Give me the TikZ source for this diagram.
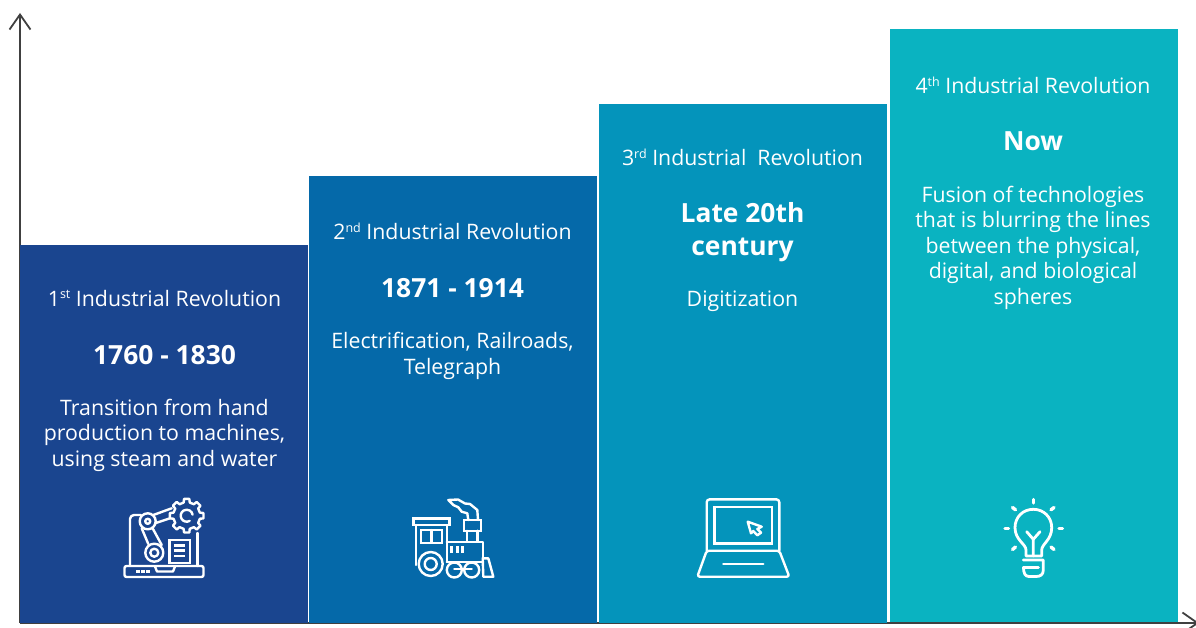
\documentclass[tikz,border=0pt]{standalone}
\usepackage{fontspec}
\setmainfont{Open Sans}
\usetikzlibrary{arrows.meta}
\definecolor{colA}{HTML}{1A458F}
\definecolor{colB}{HTML}{0569A9}
\definecolor{colC}{HTML}{0494BB}
\definecolor{colD}{HTML}{0AB3C1}
\definecolor{axisc}{HTML}{404040}
\newcommand{\sups}[1]{\raisebox{7.5pt}{\fontsize{12.5}{13}\selectfont #1}}
\tikzset{
  x=1pt,y=-1pt,
  axisline/.style={draw=axisc,line width=2pt,-{Straight Barb[length=15pt,width=21pt,line width=1.8pt]}},
  headtext/.style={white,font=\fontsize{21.3}{25.5}\selectfont,anchor=base,inner sep=0pt},
  datetext/.style={white,font=\fontsize{26.4}{32}\selectfont\bfseries,anchor=base,align=center,inner sep=0pt},
  bodytext/.style={white,font=\fontsize{21.3}{25.5}\selectfont,anchor=base,align=center,inner sep=0pt},
  icon/.style={draw=white,line width=2.4pt,line join=round,line cap=round},
  iconbar/.style={draw=white,line width=2.6pt,line cap=butt},
  ray/.style={draw=white,line width=3.4pt,line cap=round}
}
\begin{document}
\begin{tikzpicture}
\clip (0,0) rectangle (1196,628);
\fill[white] (0,0) rectangle (1196,628);
% axes
\coordinate (origin) at (20,623);
\coordinate (ytip) at (20,13);
\coordinate (xtip) at (1199,623);
\draw[axisline] (origin) -- (ytip);
\draw[axisline] (origin) -- (xtip);
% columns
\fill[colA] (20,245) rectangle (308,623);
\fill[colB] (309,176) rectangle (597,623);
\fill[colC] (599,104) rectangle (887,623);
\fill[colD] (890,29) rectangle (1178,622);
% column 1 text
\node[headtext] (h1) at (164.5,306) {1\sups{st} Industrial Revolution};
\node[datetext] (d1) at (164.5,364.5) {1760 - 1830};
\node[bodytext] (b1a) at (164.5,415) {Transition from hand};
\node[bodytext] (b1b) at (164.5,440.5) {production to machines,};
\node[bodytext] (b1c) at (164.5,466) {using steam and water};
% column 2 text
\node[headtext] (h2) at (452.5,240) {2\sups{nd} Industrial Revolution};
\node[datetext] (d2) at (452.5,297.5) {1871 - 1914};
\node[bodytext] (b2a) at (452.5,348) {Electrification, Railroads,};
\node[bodytext] (b2b) at (452.5,374) {Telegraph};
% column 3 text
\node[headtext] (h3) at (742.5,166) {3\sups{rd} Industrial\ \ Revolution};
\node[datetext] (d3a) at (742.5,223) {Late 20th};
\node[datetext] (d3b) at (742.5,255) {century};
\node[bodytext] (b3) at (742.5,306) {Digitization};
% column 4 text
\node[headtext] (h4) at (1033,94) {4\sups{th} Industrial Revolution};
\node[datetext] (d4) at (1033,151) {Now};
\node[bodytext] (b4a) at (1033,202.5) {Fusion of technologies};
\node[bodytext] (b4b) at (1033,228) {that is blurring the lines};
\node[bodytext] (b4c) at (1033,253.5) {between the physical,};
\node[bodytext] (b4d) at (1033,279) {digital, and biological};
\node[bodytext] (b4e) at (1033,304.5) {spheres};
% icon 1: robot arm on a laptop
\draw[icon,rounded corners=2pt] (124.5,566) rectangle (203.5,577);
\draw[icon] (155,566.5) -- (157,571.5) -- (173,571.5) -- (175,566.5);
\foreach \x in {136,141,146}{\fill[white] (\x,570) rectangle (\x+3.5,572.5);}
\draw[icon,rounded corners=4pt] (130,566) -- (130,515) -- (141,515);
\draw[icon] (197.3,566) -- (197.3,533);
\draw[icon] (147.7,521.3) circle (8);
\draw[icon] (147.7,521.3) circle (2.5);
\draw[icon] (153.3,515) -- (171.7,508.3);
\draw[icon] (155,523.3) -- (170,518.3);
\draw[icon] (141.7,528.3) -- (148.3,544);
\draw[icon] (152.3,527.7) -- (161.7,545);
\draw[icon] (154.3,552.7) circle (9);
\draw[icon] (154.3,552.7) circle (4);
\begin{scope}[shift={(186.7,515.7)}]
\draw[icon] (-31:13.5) \foreach \a in {0,45,...,315}{ -- (\a-13:13.5) -- (\a-9:17) -- (\a+9:17) -- (\a+13:13.5)} -- cycle;
\draw[icon] (60:6) arc[start angle=60,end angle=350,radius=6];
\end{scope}
\draw[icon,line join=miter] (169.3,540) rectangle (190,562.7);
\foreach \y in {545.7,550.7,556}{\draw[iconbar] (174,\y) -- (185,\y);}
% icon 2: locomotive
\draw[icon,line join=miter] (413.3,518.3) rectangle (449.3,525);
\draw[icon] (416,525) -- (416,565);
\draw[icon] (446.7,525) -- (446.7,541.7);
\draw[icon,line join=miter] (421,530) rectangle (441.7,542.7);
\draw[icon] (431.3,530) -- (431.3,542.7);
\draw[icon] (446.7,541.7) -- (482.7,541.7) -- (482.7,558.3);
\draw[icon] (446.7,541.7) -- (446.7,562);
\draw[icon] (446.7,562) -- (482.7,562);
\draw[icon,line join=miter] (464,520) rectangle (480.7,530.7);
\draw[icon] (466.7,530.7) -- (466.7,541.7);
\draw[icon] (477.3,530.7) -- (477.3,541.7);
\draw[icon] (478,520) -- (477.3,510) -- (470,504) -- (465,503.5) -- (458,499.5) -- (448.3,500) -- (453.3,505) -- (458.3,507.3) -- (461.7,511.7) -- (467.3,513.3) -- (468.3,520);
\foreach \x in {450,456,461.3}{\fill[white] (\x,546) rectangle (\x+3,552.7);}
\fill[colB] (430.7,564) circle (12);
\draw[icon] (430.7,564) circle (12);
\draw[icon] (430.7,564) circle (6);
\fill[colB] (454.3,570) circle (7.5);
\fill[colB] (471.7,570) circle (7.5);
\draw[icon] (454.3,570) circle (7.5);
\draw[icon] (471.7,570) circle (7.5);
\draw[icon] (454.3,569) -- (471.7,569);
\draw[icon,line join=round] (482.7,558.3) -- (488.3,558.3) -- (493.3,576.7) -- (483.3,576.7) -- cycle;
% icon 3: laptop
\draw[icon,rounded corners=3pt] (706.7,550.7) -- (706.7,499.3) -- (779.3,499.3) -- (779.3,550.7);
\draw[icon,line join=miter] (714.3,506.7) rectangle (771.7,543.3);
\draw[icon,rounded corners=2.5pt] (706.7,550.7) -- (779.3,550.7) -- (789.3,576.7) -- (697.3,576.7) -- cycle;
\draw[icon] (723.3,564) -- (763.3,564);
\draw[icon] (747.7,521.7) -- (761.7,526.7) -- (757.3,529) -- (761,532.7) -- (757.3,535.3) -- (753.3,531) -- (751,533.3) -- cycle;
% icon 4: light bulb
\draw[icon,line width=2.8pt] (1026,556) -- (1026,550) .. controls (1026,544) and (1015,540) .. (1015,527.7)
  .. controls (1015,517) and (1023,509.3) .. (1033.3,509.3)
  .. controls (1043.6,509.3) and (1051.7,517) .. (1051.7,527.7)
  .. controls (1051.7,540) and (1041.7,544) .. (1041.7,550) -- (1041.7,556) -- cycle;
\draw[icon,line width=2.8pt] (1033.3,556) -- (1033.3,539.3) -- (1026.7,531.7);
\draw[icon,line width=2.8pt] (1033.3,539.3) -- (1040,531.7);
\draw[icon,line width=2.8pt] (1023.3,560) -- (1043.3,560) -- (1043.3,570) .. controls (1043.3,575) and (1040,576.5) .. (1036,576.5) -- (1029,576.5) .. controls (1025,576.5) and (1023.5,573) .. (1023.5,567.5) -- (1038.5,567.5);
\draw[ray] (1033.3,499.5) -- (1033.3,503);
\draw[ray] (1012.5,507.5) -- (1015.5,509.8);
\draw[ray] (1054,507.5) -- (1051,509.8);
\draw[ray] (1005,528.3) -- (1008.5,528.3);
\draw[ray] (1059,528.3) -- (1062.5,528.3);
\draw[ray] (1012.5,549.5) -- (1015.5,547);
\draw[ray] (1054,549.5) -- (1051,547);
\end{tikzpicture}
\end{document}
